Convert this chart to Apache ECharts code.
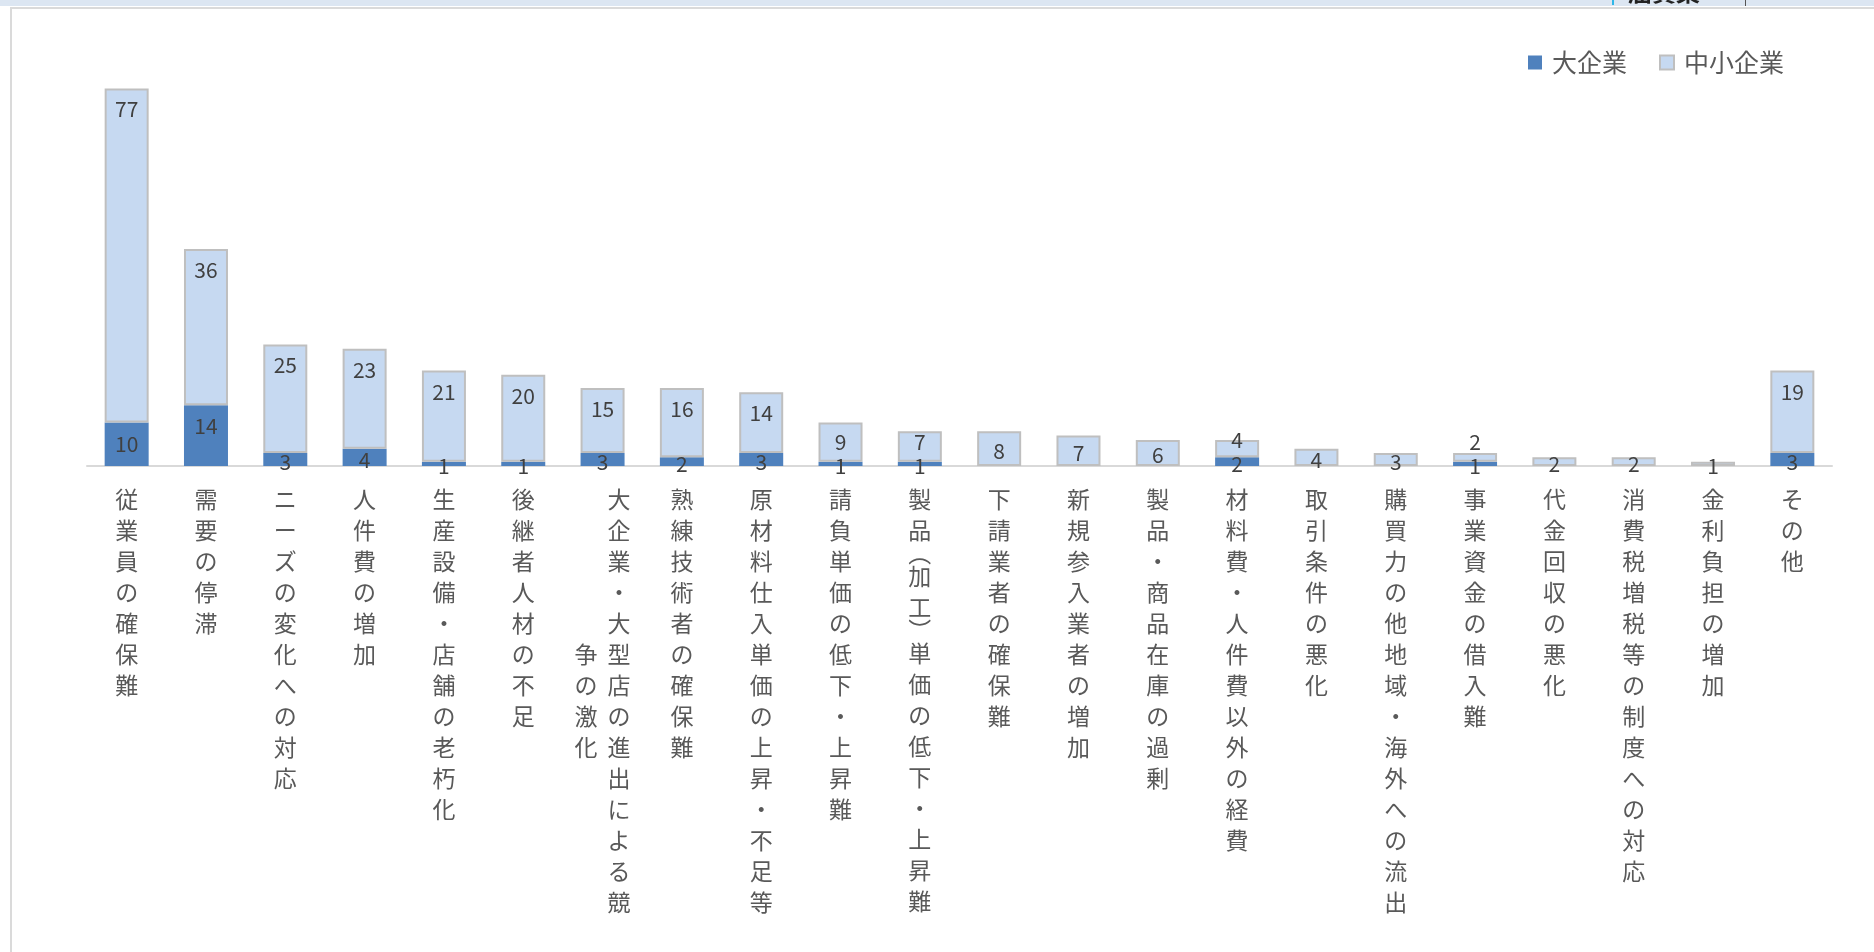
<!DOCTYPE html>
<html>
<head>
<meta charset="utf-8">
<script src="https://cdn.jsdelivr.net/npm/echarts@6/dist/echarts.min.js"></script>
<style>
html,body{margin:0;padding:0;background:#fff;}
#chart{width:1874px;height:952px;}
</style>
</head>
<body>
<div id="chart"></div>
<script>
// ---- data ----
const categories = [
  '従業員の確保難','需要の停滞','ニーズの変化への対応','人件費の増加','生産設備・店舗の老朽化',
  '後継者人材の不足','大企業・大型店の進出による競争の激化','熟練技術者の確保難','原材料仕入単価の上昇・不足等',
  '請負単価の低下・上昇難','製品(加工)単価の低下・上昇難','下請業者の確保難','新規参入業者の増加',
  '製品・商品在庫の過剰','材料費・人件費以外の経費','取引条件の悪化','購買力の他地域・海外への流出',
  '事業資金の借入難','代金回収の悪化','消費税増税等の制度への対応','金利負担の増加','その他'
];
const largeCompanies = [10,14,3,4,1,1,3,2,3,1,1,null,null,null,2,null,null,1,null,null,null,3];
const smallCompanies = [77,36,25,23,21,20,15,16,14,9,7,8,7,6,4,4,3,2,2,2,1,19];
const seriesNames = ['大企業','中小企業'];
const yMax = 100;

// ---- vertical label formatter ----
const MAX_COL = 14;
const VERT = {'(': '︵', ')': '︶'};
function cell(style, c){
  if (VERT[c]) return '{p|' + VERT[c] + '}';
  return '{' + style + '|' + c + '}';
}
function verticalLabel(text){
  const chars = Array.from(text);
  const units = chars.reduce((s, c) => s + (VERT[c] ? 0.5 : 1), 0);
  if (units <= MAX_COL) {
    return chars.map(c => cell('a', c)).join('\n');
  }
  const col1 = chars.slice(0, MAX_COL);
  const col2 = chars.slice(MAX_COL);
  const off = Math.floor((MAX_COL - col2.length) / 2);
  return col1.map((c, i) => {
    const c2 = col2[i - off];
    return '{b|' + (c2 !== undefined ? c2 : '　') + '}{a|' + c + '}';
  }).join('\n');
}

const chart = echarts.init(document.getElementById('chart'), null, {renderer:'canvas'});
const FONT = '"Noto Sans CJK JP", "Noto Sans", sans-serif';

const option = {
  backgroundColor: '#ffffff',
  animation: false,
  textStyle: {fontFamily: FONT},
  graphic: [
    {type:'rect', shape:{x:0,y:0,width:1874,height:6}, style:{fill:'#DCE6F2'}, silent:true},
    {type:'text', left:1628, top:-20, style:{text:'屈賃集', font:'bold 24px ' + FONT, fill:'#222'}, silent:true},
    {type:'rect', shape:{x:1612,y:0,width:2,height:5}, style:{fill:'#2FB7E8'}, silent:true},
    {type:'rect', shape:{x:1745,y:0,width:1,height:6}, style:{fill:'#555'}, silent:true},
    {type:'rect', shape:{x:10,y:7,width:1864,height:2}, style:{fill:'#DADADA'}, silent:true},
    {type:'rect', shape:{x:10,y:7,width:2,height:945}, style:{fill:'#DADADA'}, silent:true}
  ],
  legend: {
    data: seriesNames,
    left: 1523, top: 45,
    itemWidth: 14, itemHeight: 14, itemGap: 32,
    icon: 'rect',
    textStyle: {fontSize: 25, color: '#595959', fontFamily: FONT, padding:[0,0,0,5]}
  },
  grid: {left: 87, right: 42, top: 32, bottom: 486, containLabel: false},
  xAxis: {
    type: 'category',
    data: categories,
    axisLine: {show: true, lineStyle: {color: '#D9D9D9', width: 2}},
    axisTick: {show: false},
    axisLabel: {
      interval: 0,
      margin: 18,
      formatter: verticalLabel,
      rich: {
        a: {fontSize: 23, lineHeight: 31, width: 33, align: 'center', color: '#595959', fontFamily: FONT},
        b: {fontSize: 23, lineHeight: 31, width: 33, align: 'center', color: '#595959', fontFamily: FONT},
        p: {fontSize: 23, lineHeight: 15, width: 33, align: 'center', color: '#595959', fontFamily: FONT}
      }
    }
  },
  yAxis: {type: 'value', min: 0, max: yMax, show: false, splitLine: {show: false}},
  series: [
    {
      name: seriesNames[0], type: 'bar', stack: 'total', barWidth: 44,
      itemStyle: {color: '#4F81BD'},
      label: {show: true, position: 'inside', fontSize: 21, color: '#404040', fontFamily: FONT,
        formatter: p => (p.value == null ? '' : p.value)},
      data: largeCompanies
    },
    {
      name: seriesNames[1], type: 'bar', stack: 'total', barWidth: 44,
      itemStyle: {color: '#C6D9F1', borderColor: '#BFBFBF', borderWidth: 2},
      label: {show: true, position: 'inside', fontSize: 21, color: '#404040', fontFamily: FONT},
      data: smallCompanies
    }
  ]
};
chart.setOption(option);

// ---- label placement like Excel "inside end" (centered when the segment is short) ----
function py(v){ return chart.convertToPixel({yAxisIndex:0}, v); }
const largeItems = [], smallItems = [];
for (let i = 0; i < categories.length; i++) {
  const d = largeCompanies[i] || 0;
  const s = smallCompanies[i] || 0;
  let cD = null;
  if (largeCompanies[i] != null) {
    const top = py(d), bot = py(0), mid = (top + bot) / 2;
    cD = Math.min(top + 21, mid + 2.5);
    largeItems.push({value: largeCompanies[i], label: {offset: [0, cD - mid]}});
  } else {
    largeItems.push(null);
  }
  const top = py(d + s), bot = py(d), mid = (top + bot) / 2;
  let cL = Math.min(top + 21, mid + 2.5);
  if (cD != null && cD - cL < 24) cL = cD - 24;
  smallItems.push({value: smallCompanies[i], label: {offset: [0, cL - mid]}});
}
chart.setOption({series: [{data: largeItems}, {data: smallItems}]});
</script>
</body>
</html>
